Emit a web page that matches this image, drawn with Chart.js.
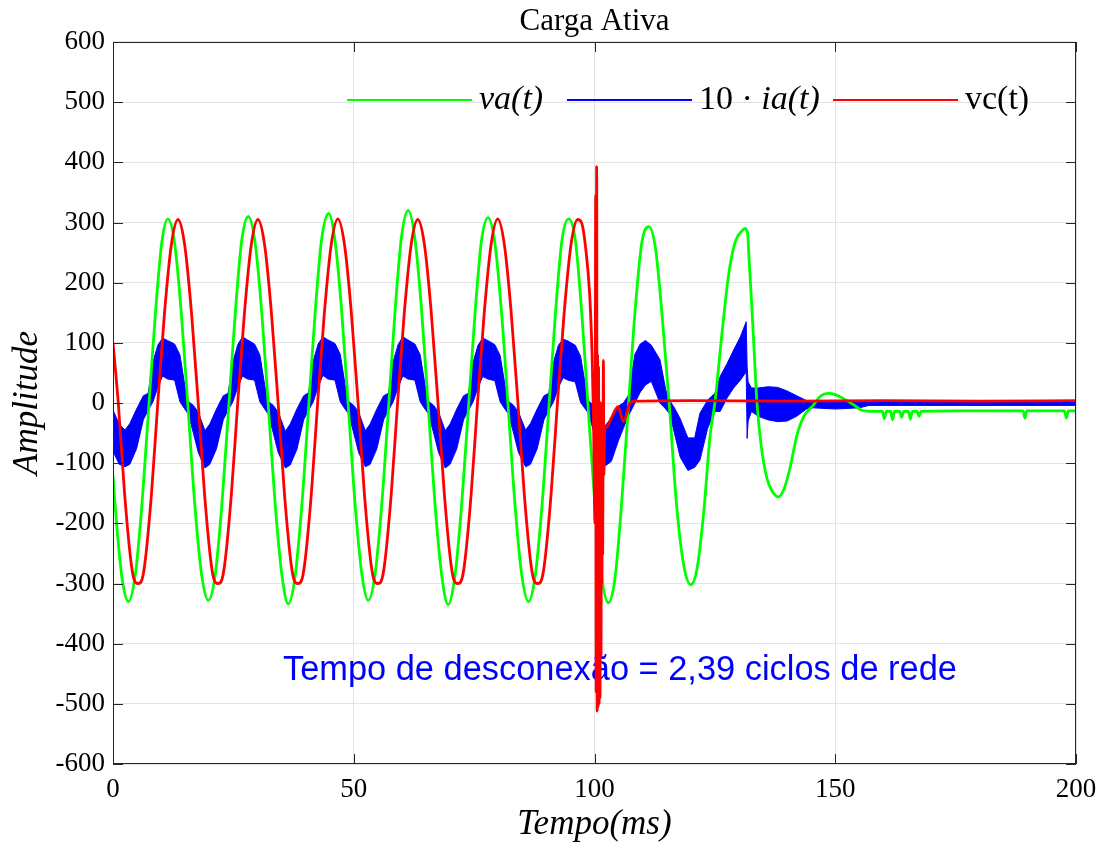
<!DOCTYPE html>
<html>
<head>
<meta charset="utf-8">
<title>Carga Ativa</title>
<script src="https://cdn.jsdelivr.net/npm/chart.js@4.4.0/dist/chart.umd.min.js"></script>
<style>
  html, body { margin: 0; padding: 0; background: #fff; }
  #wrap { width: 1102px; height: 843px; position: relative; }
</style>
</head>
<body>
<div id="wrap"><canvas id="grafico"></canvas></div>
<script>
// va(t): tensao da rede (ms, V)
const vaTempo = [
  0, 1.0, 2.0, 3.2,
  4.6, 6.0, 7.4, 8.8, 10.1, 11.4, 12.8, 14.2, 15.6, 17.0, 18.4,
  19.8, 21.2, 22.6, 24.0, 25.4, 26.7, 28.1, 29.5, 30.9, 32.3, 33.7, 35.1,
  36.4, 37.8, 39.2, 40.6, 42.0, 43.3, 44.8, 46.1, 47.5, 48.9, 50.3, 51.7,
  53.0, 54.4, 55.8, 57.2, 58.6, 59.9, 61.3, 62.7, 64.1, 65.5, 66.9, 68.3,
  69.6, 71.0, 72.4, 73.8, 75.2, 76.5, 77.9, 79.3, 80.7, 82.1, 83.5, 84.9,
  86.3, 87.7, 89.1, 90.5, 91.9, 93.2, 94.6, 96.0, 97.4, 98.7, 100.1, 101.5,
  102.9, 104.3, 105.6, 107.0, 108.4, 109.8, 111.3, 112.7, 114.1, 115.6, 117.0, 118.5,
  120.0, 121.3, 122.7, 124.0, 125.0, 126.4, 127.8, 129.0, 129.8, 130.5, 131.2, 131.8, 132.1, 132.6, 133.2, 133.7,
  134.6, 135.8, 137.0, 138.2, 139.4, 140.6, 142.0, 143.5, 145.4, 147.0, 148.5, 150.0, 152.0, 154.0, 155.5,
  158.0, 159.8, 160.2, 160.6, 161.5, 161.9, 162.3, 163.4, 163.8, 164.2, 165.2, 165.6, 166.0, 167.0, 167.4, 167.8,
  175.0, 189.0, 189.4, 189.8, 197.6, 198.0, 198.4, 200
];
const vaValores = [
  -122, -224, -298, -330,
  -287, -170, -10, 148, 265, 306, 265, 148, -10, -170, -285,
  -328, -287, -170, -10, 150, 268, 310, 267, 150, -10, -170, -287,
  -334, -289, -172, -10, 152, 270, 315, 270, 152, -10, -170, -285,
  -328, -286, -170, -10, 155, 275, 320, 273, 153, -10, -171, -288,
  -335, -288, -170, -10, 150, 268, 308, 266, 150, -10, -170, -286,
  -330, -286, -170, -10, 150, 268, 306, 272, 145, -10, -170, -290,
  -332, -288, -170, -10, 150, 265, 293, 255, 140, -10, -165, -268,
  -302, -275, -180, -55, 0, 110, 210, 262, 278, 285, 290, 282, 240, 170, 80, 5,
  -70, -125, -148, -156, -142, -108, -55, -22, -4, 12, 16, 14, 6, -4, -12,
  -14, -14, -26, -14, -14, -28, -14, -14, -24, -14, -14, -27, -14, -14, -22, -14,
  -13, -13, -25, -13, -13, -25, -13, -13
];

// vc(t): tensao no capacitor
const vcTempo = [
  0, 1.1, 2.4, 3.8, 4.5, 5.2, 5.9, 6.6, 8.0, 9.3, 10.7, 12.1, 13.5, 14.9, 16.3, 17.7, 19.0, 20.4, 21.1,
  21.8, 22.5, 23.2, 24.6, 25.9, 27.3, 28.7, 30.1, 31.5, 32.9, 34.3, 35.6, 37.0, 37.7,
  38.4, 39.1, 39.8, 41.2, 42.5, 43.9, 45.3, 46.7, 48.1, 49.5, 50.9, 52.2, 53.6, 54.3,
  55.0, 55.7, 56.4, 57.8, 59.1, 60.5, 61.9, 63.3, 64.7, 66.1, 67.5, 68.8, 70.2, 70.9,
  71.6, 72.3, 73.0, 74.4, 75.7, 77.1, 78.5, 79.9, 81.3, 82.7, 84.1, 85.4, 86.8, 87.5,
  88.2, 88.9, 89.6, 91.0, 92.3, 93.7, 95.1, 96.5, 97.3, 98.2, 99.0, 99.5, 99.8,
  100.1, 100.25, 100.35, 100.45, 100.55, 100.65, 100.75, 100.85, 100.95, 101.05, 101.15, 101.25,
  101.35, 101.45, 101.55, 101.62, 101.7, 101.78, 101.85, 101.95, 102.1,
  102.5, 103.5, 104.9, 106.0, 107.4, 108.5, 120, 140, 160, 180, 200
];
const vcValores = [
  100, 0, -150, -268, -296, -300, -296, -268, -150, 0, 150, 262, 305, 262, 150, 0, -150, -268, -296,
  -300, -296, -268, -150, 0, 150, 262, 305, 262, 150, 0, -150, -268, -296,
  -300, -296, -268, -150, 0, 150, 262, 306, 262, 150, 0, -150, -268, -296,
  -300, -296, -268, -150, 0, 150, 262, 305, 262, 150, 0, -150, -268, -296,
  -300, -296, -268, -150, 0, 150, 262, 306, 262, 150, 0, -150, -268, -296,
  -300, -296, -268, -150, 0, 150, 262, 305, 300, 255, 180, 80, -30,
  -200, 345, -480, 393, -512, 80, -505, 60, -500, -20, -490, 0,
  -420, -30, -300, -80, -250, -60, 71, -120, -45,
  -40, -25, -6, -31, 0, 3, 4, 3, 4, 3, 4
];

// 10*ia(t): corrente com ripple, guardada como envoltoria superior e inferior
const iaTempo = [
  0, 1.3,
  2.5, 3.5, 4.9, 6.3, 7.3, 8.3, 9.3, 10.3, 11.3, 12.8, 13.9, 14.9, 15.6, 16.7, 17.7,
  19.1, 20.1, 21.5, 22.9, 23.9, 24.9, 25.9, 26.9, 27.9, 29.4, 30.5, 31.5, 32.2, 33.3, 34.3,
  35.8, 36.8, 38.2, 39.6, 40.6, 41.6, 42.6, 43.6, 44.6, 46.1, 47.2, 48.2, 48.9, 50.0, 51.0,
  52.4, 53.4, 54.8, 56.2, 57.2, 58.2, 59.2, 60.2, 61.2, 62.7, 63.8, 64.8, 65.5, 66.6, 67.6,
  69.0, 70.0, 71.4, 72.8, 73.8, 74.8, 75.8, 76.8, 77.8, 79.3, 80.4, 81.4, 82.1, 83.2, 84.2,
  85.7, 86.7, 88.1, 89.5, 90.5, 91.5, 92.5, 93.5, 94.5, 96.0, 97.1, 98.1, 98.8, 99.9, 100.9,
  102.0, 103.5, 105.0, 106.0, 107.0, 108.4, 109.5, 110.6, 111.8, 113.6, 114.8, 115.6, 116.6, 117.8,
  119.4, 120.8, 121.9, 123.5, 125.0, 126.1, 127.5, 128.9, 130.3, 131.5, 131.7, 131.9,
  132.6, 134.0, 136.0, 138.0, 140.0, 142.0, 144.0, 145.4, 150, 155, 157, 200
];
const iaMax = [
  -12, -35,
  -45, -34, -10, 12, 16, 68, 96, 108, 104, 98, 80, 30, 3, -4, -15,
  -46, -35, -10, 12, 16, 68, 97, 110, 105, 98, 80, 30, 3, -4, -15,
  -47, -35, -10, 12, 17, 70, 98, 110, 105, 99, 81, 30, 3, -4, -15,
  -46, -35, -10, 12, 16, 69, 97, 110, 105, 98, 80, 30, 3, -4, -15,
  -46, -35, -10, 12, 16, 68, 96, 108, 104, 97, 79, 30, 3, -4, -15,
  -45, -34, -10, 12, 16, 68, 96, 106, 103, 96, 78, 30, 3, -4, -18,
  -40, -25, -5, 0, 12, 81, 98, 104, 96, 72, 22, 4, -8, -26,
  -58, -58, -17, 5, 16, 44, 65, 88, 110, 135, 60, 35,
  25, 25, 27, 26, 20, 12, 4, 2, 4, 4, 3, 3
];
const iaMin = [
  -80, -102,
  -106, -102, -76, -28, -12, 2, 26, 45, 40, 38, 2, -10, -18, -50, -82,
  -108, -102, -76, -28, -12, 2, 26, 45, 40, 38, 2, -10, -18, -50, -82,
  -108, -103, -77, -28, -12, 2, 27, 46, 40, 38, 2, -10, -18, -50, -82,
  -106, -102, -76, -28, -12, 2, 26, 45, 40, 38, 2, -10, -18, -50, -82,
  -108, -102, -76, -28, -12, 2, 26, 44, 40, 37, 2, -10, -18, -50, -82,
  -106, -102, -76, -28, -12, 2, 26, 42, 38, 35, 1, -10, -18, -50, -84,
  -106, -97, -62, -42, -22, 0, 18, 30, 36, 0, -10, -18, -50, -90,
  -112, -107, -95, -42, -14, -14, 8, 25, 38, 52, -59, -30,
  -14, -22, -28, -31, -30, -22, -10, -8, -10, -8, -4, -4
];

const legendaTextos = [
  [['va(t)', true]],
  [['10 \u00b7 ', false], ['ia(t)', true]],
  [['vc(t)', false]]
];
const anotacao = 'Tempo de desconex\u00e3o = 2,39 ciclos de rede';
const anotacaoPos = { x: 35.3, y: -460 };

const serif = '"Liberation Serif", "Times New Roman", serif';

function pares(t, v) {
  return t.map((x, i) => ({ x: x, y: v[i] }));
}

// moldura preta com marcas de escala para dentro, nos quatro lados
const caixaEixos = {
  id: 'caixaEixos',
  afterDatasetsDraw(chart) {
    const { ctx, chartArea: a, scales: { x, y } } = chart;
    ctx.save();
    ctx.strokeStyle = '#262626';
    ctx.lineWidth = 1;
    ctx.beginPath();
    x.ticks.forEach(t => {
      const px = Math.round(x.getPixelForValue(t.value)) + 0.5;
      ctx.moveTo(px, a.bottom); ctx.lineTo(px, a.bottom - 10);
      ctx.moveTo(px, a.top); ctx.lineTo(px, a.top + 10);
    });
    y.ticks.forEach(t => {
      const py = Math.round(y.getPixelForValue(t.value)) + 0.5;
      ctx.moveTo(a.left, py); ctx.lineTo(a.left + 10, py);
      ctx.moveTo(a.right, py); ctx.lineTo(a.right - 10, py);
    });
    ctx.stroke();
    ctx.strokeRect(Math.round(a.left) + 0.5, Math.round(a.top) + 0.5,
      Math.round(a.width) - 1, Math.round(a.height) - 1);
    ctx.restore();
  }
};

const textoDesconexao = {
  id: 'textoDesconexao',
  beforeDatasetsDraw(chart) {
    const { ctx, scales: { x, y } } = chart;
    ctx.save();
    ctx.font = '34.4px "Liberation Sans", Arial, sans-serif';
    ctx.fillStyle = '#0000ff';
    ctx.textAlign = 'left';
    ctx.textBaseline = 'alphabetic';
    ctx.fillText(anotacao, x.getPixelForValue(anotacaoPos.x), y.getPixelForValue(anotacaoPos.y));
    ctx.restore();
  }
};

// legenda dentro da area do grafico, sem caixa
const legendaInterna = {
  id: 'legendaInterna',
  afterDraw(chart) {
    const { ctx, chartArea: a } = chart;
    const yl = a.top + 58;
    const inicio = [234, 454, 720];
    const ordem = [1, 2, 0];
    ctx.save();
    ordem.forEach((idx, i) => {
      const ds = chart.data.datasets[idx];
      const x0 = a.left + inicio[i];
      ctx.strokeStyle = ds.borderColor;
      ctx.lineWidth = 2;
      ctx.beginPath();
      ctx.moveTo(x0, yl);
      ctx.lineTo(x0 + 125, yl);
      ctx.stroke();
      let xt = x0 + 132;
      ctx.fillStyle = '#000';
      ctx.textBaseline = 'middle';
      legendaTextos[i].forEach(([txt, italico]) => {
        ctx.font = (italico ? 'italic ' : '') + '34px ' + serif;
        ctx.fillText(txt, xt, yl);
        xt += ctx.measureText(txt).width;
      });
    });
    ctx.restore();
  }
};

new Chart(document.getElementById('grafico'), {
  type: 'line',
  data: {
    datasets: [
      {
        label: 'vc(t)',
        data: pares(vcTempo, vcValores),
        borderColor: '#ff0000',
        borderWidth: 2.8,
        cubicInterpolationMode: 'monotone'
      },
      {
        label: 'va(t)',
        data: pares(vaTempo, vaValores),
        borderColor: '#00ff00',
        borderWidth: 2.8,
        cubicInterpolationMode: 'monotone'
      },
      {
        label: '10 \u00b7 ia(t)',
        data: pares(iaTempo, iaMax),
        borderColor: '#0000ff',
        backgroundColor: '#0000ff',
        borderWidth: 1,
        tension: 0,
        fill: '+1'
      },
      {
        label: 'ia_min',
        data: pares(iaTempo, iaMin),
        borderColor: '#0000ff',
        borderWidth: 1,
        tension: 0,
        fill: false
      }
    ]
  },
  options: {
    responsive: true,
    maintainAspectRatio: false,
    animation: false,
    events: [],
    elements: { point: { radius: 0 } },
    layout: { padding: { top: 0, right: 26, bottom: 0, left: 0 } },
    plugins: {
      legend: { display: false },
      tooltip: { enabled: false },
      title: {
        display: true,
        fullSize: false,
        text: 'Carga Ativa',
        color: '#000',
        font: { family: serif, size: 31, weight: 'normal', lineHeight: 1.2 },
        padding: { top: 3, bottom: 1.8 }
      }
    },
    scales: {
      x: {
        type: 'linear',
        min: 0,
        max: 200,
        ticks: {
          stepSize: 50,
          autoSkip: false,
          maxRotation: 0,
          color: '#000',
          padding: 10,
          font: { family: serif, size: 27 }
        },
        grid: { color: '#e3e3e3', drawTicks: false },
        border: { display: false },
        title: {
          display: true,
          text: 'Tempo(ms)',
          color: '#000',
          font: { family: serif, size: 35, style: 'italic', lineHeight: 1.0 },
          padding: { top: 0, bottom: 0.5 }
        },
        afterFit(scale) {
          scale.height = 79;
          scale.paddingLeft = 0;
          scale.paddingRight = 0;
        }
      },
      y: {
        type: 'linear',
        min: -600,
        max: 600,
        ticks: {
          stepSize: 100,
          autoSkip: false,
          color: '#000',
          padding: 8,
          font: { family: serif, size: 27 }
        },
        grid: { color: '#e3e3e3', drawTicks: false },
        border: { display: false },
        title: {
          display: true,
          text: 'Amplitude',
          color: '#000',
          font: { family: serif, size: 35, style: 'italic', lineHeight: 1.0 },
          padding: { top: 10.5, bottom: 0 }
        },
        afterFit(scale) { scale.width = 113; }
      }
    }
  },
  plugins: [caixaEixos, textoDesconexao, legendaInterna]
});
</script>
</body>
</html>
